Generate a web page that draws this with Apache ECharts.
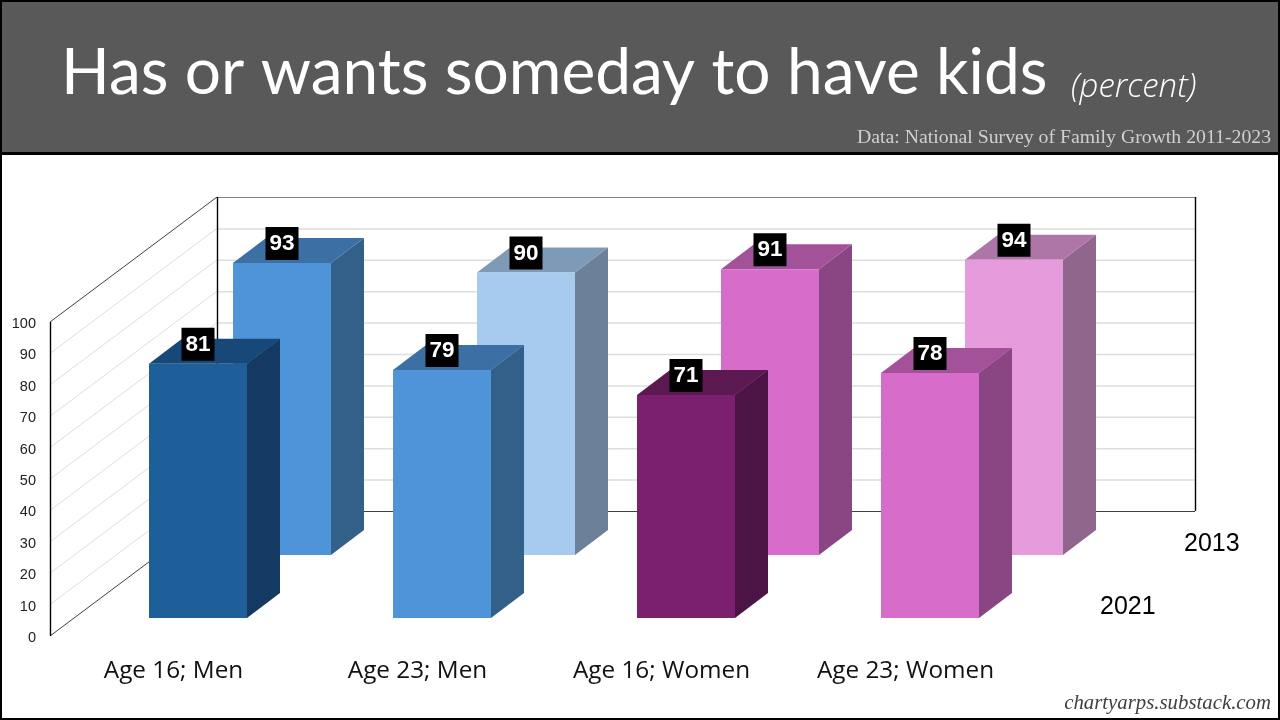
<!DOCTYPE html>
<html><head><meta charset="utf-8">
<style>html,body{margin:0;padding:0;background:#fff}#c{width:1280px;height:720px}</style>
<script src="https://cdn.jsdelivr.net/npm/echarts@6/dist/echarts.min.js"></script>
</head><body><div id="c"></div>
<script>
const categories = ['Age 16; Men','Age 23; Men','Age 16; Women','Age 23; Women'];
const values2021 = [81,79,71,78];
const values2013 = [93,90,91,94];
const valueTicks = [0,10,20,30,40,50,60,70,80,90,100];
const rowNames = ['2013','2021'];
const facePalette2021 = [['#1F5F99','#184877','#143A63'],['#4F94D9','#3C6FA4','#326089'],['#7B206F','#5C1851','#4C1444'],['#D76CCB','#A3529A','#8A4683']];
const facePalette2013 = [['#4F94D9','#3C6FA4','#326089'],['#A6CBEE','#7F9AB6','#6C8199'],['#D76CCB','#A3529A','#8A4683'],['#E69BDD','#AD76A6','#91668D']];

// oblique projection of the depth axis
const wallDepth = [167,-125];
const barDepth = [33,-25];
const row2021 = [26,-18];
const row2013 = [110,-81];

const chart = echarts.init(document.getElementById('c'),null,{renderer:'canvas'});

function barRender(row, palette){
  return function(params, api){
    const i = api.value(0), v = api.value(1);
    const top = api.coord([i,v]), base = api.coord([i,0]);
    const w = api.size([1,0])[0]*0.4016;
    const x0 = top[0]-w/2+row[0], x1 = x0+w;
    const yt = top[1]+row[1], yb = base[1]+row[1];
    const dx = barDepth[0], dy = barDepth[1];
    const c = palette[i];
    const cx = (x0+x1)/2, ly = yt-19.5;
    return {type:'group',children:[
      {type:'polygon',shape:{points:[[x1,yt],[x1+dx,yt+dy],[x1+dx,yb+dy],[x1,yb]]},style:{fill:c[2]}},
      {type:'polygon',shape:{points:[[x0,yt],[x0+dx,yt+dy],[x1+dx,yt+dy],[x1,yt]]},style:{fill:c[1]}},
      {type:'rect',shape:{x:x0,y:yt,width:w,height:yb-yt},style:{fill:c[0]}},
      {type:'rect',shape:{x:cx-16.5,y:ly-16.5,width:33,height:33},style:{fill:'#000'}},
      {type:'text',style:{text:String(v),x:cx,y:ly+0.5,fill:'#fff',align:'center',verticalAlign:'middle',font:'bold 22.5px "Liberation Sans"'}}
    ]};
  };
}

function wallRender(params, api){
  const v = api.value(0);
  const cs = params.coordSys;
  const p = api.coord([0,v]);
  const x0 = cs.x, y = p[1];
  const xb = x0+wallDepth[0], yb = y+wallDepth[1];
  const xr = xb+cs.width+2;
  const edge = v===0 || v===100;
  const col = v===0 ? '#404040' : (v===100 ? '#808080' : '#DEDEDE');
  const side = edge ? '#404040' : '#DEDEDE';
  const kids = [
    {type:'line',shape:{x1:x0,y1:y,x2:xb,y2:yb},style:{stroke:side,lineWidth:1}},
    {type:'line',shape:{x1:xb,y1:yb+0.5,x2:xr,y2:yb+0.5},style:{stroke:col,lineWidth:edge?1:1.5}}
  ];
  if(v===100){
    const h = api.size([0,100])[1];
    kids.push({type:'line',shape:{x1:x0+0.5,y1:y,x2:x0+0.5,y2:y+h},style:{stroke:'#000',lineWidth:1.4}});
    kids.push({type:'line',shape:{x1:xb+0.5,y1:yb,x2:xb+0.5,y2:yb+h},style:{stroke:'#000',lineWidth:1.4}});
    kids.push({type:'line',shape:{x1:xr+0.5,y1:yb,x2:xr+0.5,y2:yb+h},style:{stroke:'#000',lineWidth:1.4}});
  }
  return {type:'group',children:kids};
}

function rowLabelRender(params, api){
  const i = api.value(0);
  const cs = params.coordSys;
  const p = api.coord([0,0]);
  const row = i===0 ? row2013 : row2021;
  return {type:'text',style:{text:rowNames[i],x:cs.x+cs.width+row[0]+48,y:p[1]+row[1]-11,
    fill:'#000',align:'left',verticalAlign:'middle',font:'25px "Liberation Sans"'}};
}

const F = '"Open Sans"';
chart.setOption({
  animation:false,
  backgroundColor:'#fff',
  title:[
    {text:'Has or wants someday to have kids',left:61,top:41,padding:0,textStyle:{fontFamily:'Lato',fontWeight:400,fontSize:64,color:'#fff'}},
    {text:'(percent)',left:1071,top:71,padding:0,textStyle:{fontFamily:F,fontWeight:300,fontStyle:'italic',fontSize:33,color:'#fff'}},
    {text:'Data: National Survey of Family Growth 2011-2023',right:9,top:127.5,padding:0,textStyle:{fontFamily:'"Liberation Serif"',fontWeight:'normal',fontSize:19.75,color:'#D0D0D0'}},
    {text:'chartyarps.substack.com',right:9,top:693,padding:0,textStyle:{fontFamily:'"Liberation Serif"',fontWeight:'normal',fontStyle:'italic',fontSize:20.8,color:'#404040'}}
  ],
  graphic:[
    {type:'rect',z:0,shape:{x:0,y:0,width:1280,height:153},style:{fill:'#595959'}},
    {type:'rect',z:1,shape:{x:0,y:152,width:1280,height:3},style:{fill:'#000'}},
    {type:'rect',z:50,shape:{x:1,y:1,width:1278,height:718},style:{fill:'none',stroke:'#000',lineWidth:2}}
  ],
  grid:{left:50,top:322,width:976,height:314,containLabel:false},
  xAxis:{type:'category',data:categories,axisLine:{show:false},axisTick:{show:false},splitLine:{show:false},
    axisLabel:{margin:23,padding:[0,0,0,3],fontFamily:F,fontSize:24.3,color:'#111',interval:0}},
  yAxis:{type:'value',min:0,max:100,interval:10,axisTick:{show:false},splitLine:{show:false},
    axisLine:{show:false},
    axisLabel:{margin:14,verticalAlign:'top',lineHeight:4,fontFamily:'"Liberation Sans"',fontSize:14.5,color:'#222'}},
  series:[
    {type:'custom',name:'walls',z:1,silent:true,clip:false,data:valueTicks.map(v=>[v]),encode:{y:0},renderItem:wallRender},
    {type:'custom',name:'2013',z:2,clip:false,data:values2013.map((v,i)=>[i,v]),encode:{x:0,y:1},renderItem:barRender(row2013,facePalette2013)},
    {type:'custom',name:'2021',z:3,clip:false,data:values2021.map((v,i)=>[i,v]),encode:{x:0,y:1},renderItem:barRender(row2021,facePalette2021)},
    {type:'custom',name:'rows',z:3,silent:true,clip:false,data:rowNames.map((n,i)=>[i]),renderItem:rowLabelRender}
  ]
});
</script></body></html>
